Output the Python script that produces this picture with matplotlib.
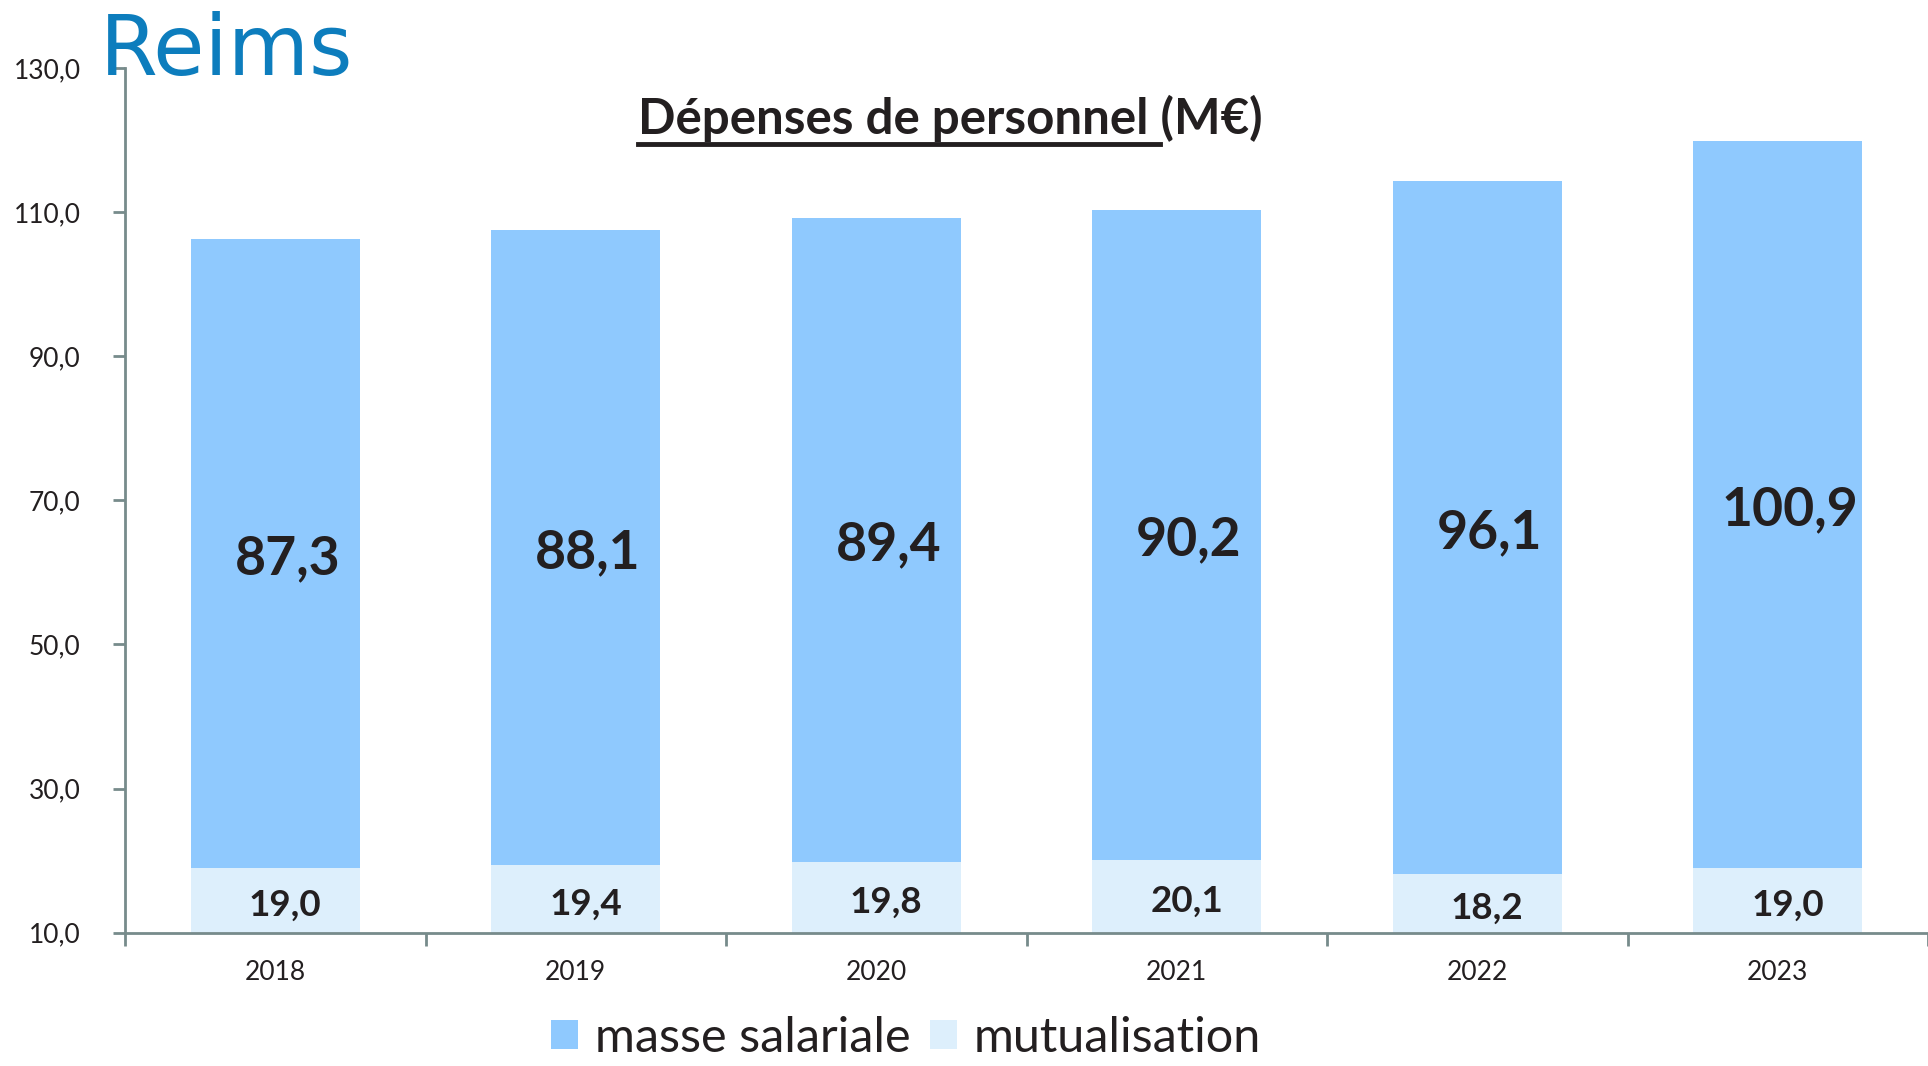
import matplotlib
matplotlib.use("Agg")
import matplotlib.pyplot as plt
from matplotlib.patches import Patch
from matplotlib.lines import Line2D

years = ["2018", "2019", "2020", "2021", "2022", "2023"]
masse_salariale = [87.3, 88.1, 89.4, 90.2, 96.1, 100.9]
mutualisation = [19.0, 19.4, 19.8, 20.1, 18.2, 19.0]
yticks = [10, 30, 50, 70, 90, 110, 130]

C_MASSE = "#8FC9FE"
C_MUT = "#DDEFFC"
C_AXIS = "#778B8B"
C_TEXT = "#231F20"
FONT = "Lato"

W, H = 1928, 1066
fig = plt.figure(figsize=(W / 100, H / 100), dpi=100)
ax = fig.add_axes([125 / W, (H - 932.7) / H, (W - 125) / W, (932.7 - 68) / H])

x = list(range(len(years)))
bw = 0.562
ax.bar(x, mutualisation, width=bw, color=C_MUT, zorder=2)
ax.bar(x, masse_salariale, width=bw, bottom=mutualisation, color=C_MASSE, zorder=2)

ymin, ymax = 10, 130
ax.set_ylim(ymin, ymax)
ax.set_xlim(-0.5, len(years) - 0.5)

for i in x:
    m = masse_salariale[i]
    b = mutualisation[i]
    ax.annotate(f"{m:.1f}".replace(".", ","), (i + 0.04, b + m / 2), xytext=(0, -5),
                textcoords="offset pixels", ha="center", va="center",
                fontsize=38.5, fontweight="bold", color=C_TEXT, family=FONT, zorder=3)
    ax.annotate(f"{b:.1f}".replace(".", ","), (i + 0.033, (ymin + b) / 2), xytext=(0, -5),
                textcoords="offset pixels", ha="center", va="center",
                fontsize=26.5, fontweight="bold", color=C_TEXT, family=FONT, zorder=3)

for s in ["top", "right"]:
    ax.spines[s].set_visible(False)
for s in ["left", "bottom"]:
    ax.spines[s].set_color(C_AXIS)
    ax.spines[s].set_linewidth(2)

ax.set_yticks(yticks)
ax.set_yticklabels([f"{v:.1f}".replace(".", ",") for v in yticks], fontsize=19,
                   family=FONT, color=C_TEXT)
ax.tick_params(axis="y", direction="out", length=9, width=2, color=C_AXIS, pad=23)

ax.set_xticks([i - 0.5 for i in range(len(years) + 1)])
ax.set_xticklabels([])
ax.set_xticks(x, minor=True)
ax.set_xticklabels(years, minor=True, fontsize=19, family=FONT, color=C_TEXT)
ax.tick_params(axis="x", which="major", direction="out", length=9, width=2, color=C_AXIS)
ax.tick_params(axis="x", which="minor", length=0, pad=20)

# Title with partial underline
title_full = "Dépenses de personnel (M€)"
title_part = "Dépenses de personnel "
TS = 35.5
tx, ty = 950 / W, 1 - 118 / H
t = fig.text(tx, ty, title_full, ha="center", va="center", fontsize=TS,
             fontweight="bold", family=FONT, color=C_TEXT)
fig.canvas.draw()
r = fig.canvas.get_renderer()
bb = t.get_window_extent(r)
tp = fig.text(0, 0, title_part + "|", fontsize=TS, fontweight="bold", family=FONT)
tb = fig.text(0, 0, "|", fontsize=TS, fontweight="bold", family=FONT)
wp = tp.get_window_extent(r).width - tb.get_window_extent(r).width
tp.remove(); tb.remove()
uy = bb.y0 - 2
fig.add_artist(Line2D([bb.x0 / W, (bb.x0 + wp) / W], [uy / H, uy / H],
                      transform=fig.transFigure, color=C_TEXT, lw=3.5))

# Logo
fig.text(100 / W, 1 - 52 / H, "Reims", ha="left", va="center", fontsize=60,
         family="DejaVu Sans", color="#0D7DBD")

handles = [Patch(facecolor=C_MASSE, label="masse salariale"),
           Patch(facecolor=C_MUT, label="mutualisation")]
fig.legend(handles=handles, loc="center", bbox_to_anchor=(906 / W, 1 - 1038 / H), ncol=2,
           frameon=False, prop={"family": FONT, "size": 35}, handlelength=0.55,
           handleheight=0.55, handletextpad=0.35, columnspacing=0.4, labelcolor=C_TEXT,
           borderpad=0.1)

fig.savefig("out.png", dpi=100)
